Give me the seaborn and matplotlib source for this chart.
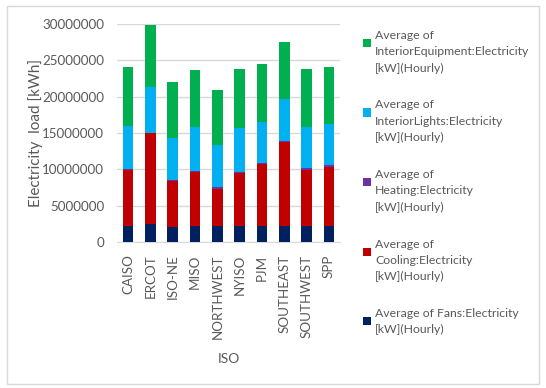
import matplotlib
matplotlib.use("Agg")
import matplotlib.pyplot as plt
import numpy as np
import pandas as pd
import seaborn as sns
from matplotlib.patches import Rectangle
from matplotlib.ticker import FuncFormatter

isos = ["CAISO", "ERCOT", "ISO-NE", "MISO", "NORTHWEST", "NYISO", "PJM",
        "SOUTHEAST", "SOUTHWEST", "SPP"]

# segment values (kWh)
fans = [2150000, 2500000, 2060000, 2150000, 2150000, 2150000, 2150000, 2240000, 2240000, 2240000]
cooling = [7800000, 12500000, 6370000, 7550000, 5220000, 7380000, 8570000, 11520000, 7730000, 8090000]
heating = [80000, 50000, 140000, 150000, 190000, 180000, 140000, 90000, 230000, 230000]
lights = [5880000, 6270000, 5730000, 6000000, 5740000, 6050000, 5720000, 5900000, 5700000, 5740000]
equipment = [8150000, 8600000, 7780000, 7850000, 7680000, 8110000, 7920000, 7850000, 7880000, 7800000]

series_names = ["Average of Fans:Electricity\n[kW](Hourly)",
                "Average of\nCooling:Electricity\n[kW](Hourly)",
                "Average of\nHeating:Electricity\n[kW](Hourly)",
                "Average of\nInteriorLights:Electricity\n[kW](Hourly)",
                "Average of\nInteriorEquipment:Electricity\n[kW](Hourly)"]
colors = ["#002060", "#C00000", "#7030A0", "#00B0F0", "#00B050"]

df = pd.DataFrame({"ISO": isos, "fans": fans, "cooling": cooling, "heating": heating,
                   "lights": lights, "equipment": equipment})
cols = ["fans", "cooling", "heating", "lights", "equipment"]
cum = df[cols].cumsum(axis=1)

sns.set_style("white")
plt.rcParams["font.family"] = ["Lato", "DejaVu Sans"]
grey = "#595959"

fig = plt.figure(figsize=(5.46, 3.88), dpi=100)
ax = fig.add_axes([0.214, 0.376, 0.409, 0.562])

# draw stacked bars from the top down (each cumulative bar covers the one below)
for c, col in reversed(list(zip(colors, cols))):
    sns.barplot(x=df["ISO"], y=cum[col], color=c, width=0.48, ax=ax,
                saturation=1, linewidth=0, zorder=3)

ax.set_ylim(0, 30000000)
ax.set_yticks(np.arange(0, 30000001, 5000000))
ax.yaxis.set_major_formatter(FuncFormatter(lambda v, p: f"{int(v)}"))
ax.grid(axis="y", color="#D9D9D9", linewidth=1, zorder=0)
ax.set_axisbelow(True)
for s in ["top", "right", "left"]:
    ax.spines[s].set_visible(False)
ax.spines["bottom"].set_color("#D9D9D9")
ax.tick_params(axis="y", labelsize=9.6, colors=grey, length=0, pad=9)
ax.tick_params(axis="x", labelsize=9.6, colors=grey, length=0, pad=9, rotation=90)
ax.set_xlabel("ISO", fontsize=10, color=grey, labelpad=10)
ax.set_ylabel("Electricity  load [kWh]", fontsize=11, color=grey)
ax.yaxis.set_label_coords(-0.33, 0.5)

# legend drawn manually (top entry first)
y0 = 388 - 38
step = 69.5
for i, (c, name) in enumerate(reversed(list(zip(colors, series_names)))):
    ytop = y0 - i * step
    fig.patches.append(Rectangle((363 / 546, (ytop - 9) / 388), 8 / 546, 8 / 388,
                                 transform=fig.transFigure, facecolor=c, edgecolor="none"))
    fig.text(375 / 546, (ytop + 8) / 388, name, fontsize=8.8, color=grey, va="top",
             ha="left", linespacing=1.6)

fig.patches.append(Rectangle((0.012, 0.01), 0.976, 0.975, transform=fig.transFigure,
                             fill=False, edgecolor="#D9D9D9", linewidth=1))

fig.savefig("out.png", dpi=100)
